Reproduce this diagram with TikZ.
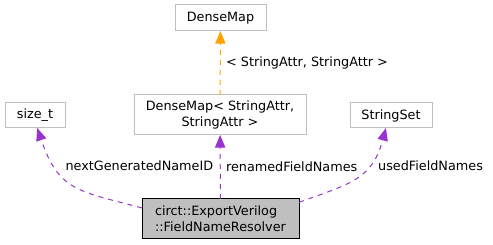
\documentclass[tikz,border=0pt]{standalone}
\usepackage{fontspec}
\setmainfont{DejaVu Sans}
\usetikzlibrary{arrows.meta}

\definecolor{boxgray}{HTML}{BFBFBF}
\definecolor{usepurple}{HTML}{9A32CD}
\definecolor{tmplorange}{HTML}{FFA500}

\begin{document}
\begin{tikzpicture}[x=0.75pt,y=0.75pt,font=\fontsize{9.6}{12}\selectfont,
  cls/.style={draw=boxgray, fill=white, line width=0.75pt, inner sep=0pt, outer sep=0pt, align=center},
  current/.style={cls, draw=black, fill=boxgray, align=left},
  uses/.style={draw=usepurple, line width=0.75pt, dash pattern=on 3.75pt off 3.75pt,
    -{Triangle[length=9.5pt,width=7.75pt]}},
  tmpl/.style={uses, draw=tmplorange},
  lbl/.style={inner sep=4pt, text=black, anchor=west}]
  \useasboundingbox (0,0) rectangle (493,245);
  \node (densemap) [cls, minimum width=68.25pt, minimum height=19.5pt] at (220.5,227) {DenseMap};
  \node (pairmap) [cls, minimum width=129pt, minimum height=30pt] at (220,130) {DenseMap< StringAttr,\\StringAttr >};
  \node (sizet) [cls, minimum width=45pt, minimum height=18.75pt] at (35,129.5) {size\_t};
  \node (strset) [cls, minimum width=61.5pt, minimum height=18.75pt] at (391,129.5) {StringSet};
  \node (resolver) [current, minimum width=117.75pt, minimum height=30pt] at (220.5,26) {circt::ExportVerilog\\::FieldNameResolver};
  \path
  (pairmap) edge[tmpl] node [lbl] {< StringAttr, StringAttr >} (densemap)
  (resolver.172) edge[uses, out=165, in=-71, looseness=1.3] node [lbl, pos=0.74, xshift=4pt] {nextGeneratedNameID} (sizet.-80)
  (resolver) edge[uses] node [lbl] {renamedFieldNames} (pairmap)
  (resolver.12) edge[uses, out=20, in=-105, looseness=1.2] node [lbl, pos=0.67, xshift=2.75pt] {usedFieldNames} (strset.-112)
  ;
\end{tikzpicture}
\end{document}
